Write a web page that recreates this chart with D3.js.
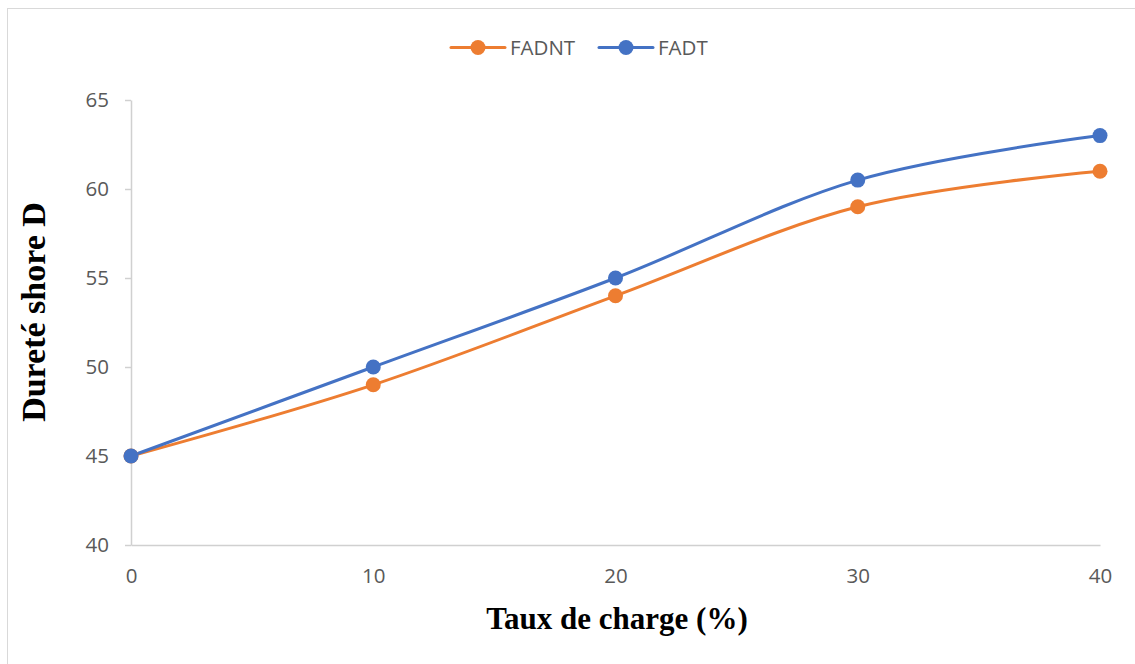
<!DOCTYPE html>
<html>
<head>
<meta charset="utf-8">
<script src="https://cdn.jsdelivr.net/npm/d3@7/dist/d3.min.js"></script>
<style>
  html, body { margin: 0; padding: 0; background: #fff; }
  svg { display: block; }
</style>
</head>
<body>
<svg id="chart" width="1135" height="664"></svg>
<script>
// Filler content (%) and Shore D hardness for both composites
const taux = [0, 10, 20, 30, 40];
const fadnt = [45, 49, 54, 59, 61];
const fadt = [45, 50, 55, 60.5, 63];
const yTicks = [40, 45, 50, 55, 60, 65];
const xTicks = [0, 10, 20, 30, 40];

const series = [
  { name: "FADNT", values: fadnt, color: "#ED7D31" },
  { name: "FADT", values: fadt, color: "#4472C4" }
];

const svg = d3.select("#chart");
const W = 1135, H = 664;

// outer chart frame
svg.append("rect")
  .attr("x", 7.5).attr("y", 8.5)
  .attr("width", W).attr("height", H)
  .attr("fill", "#fff").attr("stroke", "#d9d9d9").attr("stroke-width", 1);

const x = d3.scaleLinear().domain([0, 40]).range([131, 1100]);
const y = d3.scaleLinear().domain([40, 65]).range([545, 100]);

const labelFont = "'Open Sans', 'Liberation Sans', sans-serif";
const labelSize = "20.5px";

// y axis
const yAxis = svg.append("g").attr("transform", "translate(131,0)")
  .call(d3.axisLeft(y).tickValues(yTicks).tickSizeInner(6).tickSizeOuter(0).tickPadding(16));
yAxis.select(".domain").attr("stroke", "#d0d0d0").attr("stroke-width", 1.5);
yAxis.selectAll(".tick line").attr("stroke", "#d0d0d0").attr("stroke-width", 1.5);
yAxis.selectAll(".tick text")
  .attr("fill", "#595959").style("font-family", labelFont).style("font-size", labelSize);

// x axis
const xAxis = svg.append("g").attr("transform", "translate(0,545)")
  .call(d3.axisBottom(x).tickValues(xTicks).tickSize(0).tickPadding(23));
xAxis.select(".domain").attr("stroke", "#d0d0d0").attr("stroke-width", 1.5);
xAxis.selectAll(".tick text")
  .attr("fill", "#595959").style("font-family", labelFont).style("font-size", labelSize);

// axis titles
svg.append("text")
  .attr("x", 617).attr("y", 629)
  .attr("text-anchor", "middle")
  .style("font-family", "'Liberation Serif', 'Times New Roman', serif")
  .style("font-weight", "bold").style("font-size", "31px")
  .text("Taux de charge (%)");

svg.append("text")
  .attr("transform", "translate(45,312) rotate(-90)")
  .attr("text-anchor", "middle")
  .style("font-family", "'Liberation Serif', 'Times New Roman', serif")
  .style("font-weight", "bold").style("font-size", "34px")
  .text("Dureté shore D");

// smoothed lines with markers
const line = d3.line()
  .x((d, i) => x(taux[i]))
  .y(d => y(d))
  .curve(d3.curveCardinal.tension(0));

series.forEach(s => {
  svg.append("path")
    .attr("d", line(s.values))
    .attr("fill", "none")
    .attr("stroke", s.color)
    .attr("stroke-width", 3)
    .attr("stroke-linecap", "round");
});
series.forEach(s => {
  svg.selectAll(null).data(s.values).enter().append("circle")
    .attr("cx", (d, i) => x(taux[i]))
    .attr("cy", d => y(d))
    .attr("r", 7.5)
    .attr("fill", s.color);
});

// legend
const legendItems = [
  { s: series[0], x0: 451 },
  { s: series[1], x0: 599 }
];
legendItems.forEach(it => {
  const g = svg.append("g").attr("transform", `translate(${it.x0},47.5)`);
  g.append("line").attr("x1", 0).attr("x2", 54).attr("y1", 0).attr("y2", 0)
    .attr("stroke", it.s.color).attr("stroke-width", 3).attr("stroke-linecap", "round");
  g.append("circle").attr("cx", 27).attr("cy", 0).attr("r", 7.5).attr("fill", it.s.color);
  g.append("text").attr("x", 59).attr("y", 7.5)
    .attr("fill", "#595959").style("font-family", labelFont).style("font-size", labelSize)
    .text(it.s.name);
});
</script>
</body>
</html>
